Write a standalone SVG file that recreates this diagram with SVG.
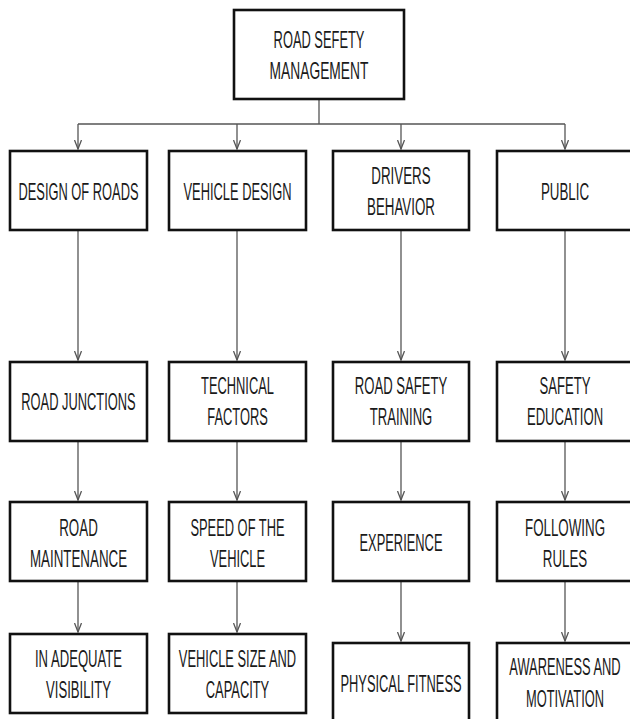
<svg xmlns="http://www.w3.org/2000/svg" width="630" height="719" viewBox="0 0 630 719">
<style>
.box{fill:#fff;stroke:#111;stroke-width:2.6}
.t{font-family:"Liberation Sans",Arial,sans-serif;font-size:23px;fill:#1a1a1a;text-anchor:middle}
.c{fill:none;stroke:#555;stroke-width:1.3}
</style>
<defs>
<marker id="ah" viewBox="0 0 10 8" refX="9.5" refY="4" markerWidth="10" markerHeight="8" markerUnits="userSpaceOnUse" orient="auto">
<path d="M0.5,0.5 L9.5,4 L0.5,7.5" fill="none" stroke="#555" stroke-width="1.3"/>
</marker>
</defs>
<rect width="630" height="719" fill="#fff"/>
<g id="connectors">
<path class="c" d="M319,99 V124 M78,124 H565"/>
<path class="c" d="M78,124 V149" marker-end="url(#ah)"/>
<path class="c" d="M237,124 V149" marker-end="url(#ah)"/>
<path class="c" d="M401,124 V149" marker-end="url(#ah)"/>
<path class="c" d="M565,124 V149" marker-end="url(#ah)"/>
<path class="c" d="M78,231 V360" marker-end="url(#ah)"/>
<path class="c" d="M237,231 V360" marker-end="url(#ah)"/>
<path class="c" d="M401,231 V360" marker-end="url(#ah)"/>
<path class="c" d="M565,231 V360" marker-end="url(#ah)"/>
<path class="c" d="M78,442 V500" marker-end="url(#ah)"/>
<path class="c" d="M237,442 V500" marker-end="url(#ah)"/>
<path class="c" d="M401,442 V500" marker-end="url(#ah)"/>
<path class="c" d="M565,442 V500" marker-end="url(#ah)"/>
<path class="c" d="M78,582 V632" marker-end="url(#ah)"/>
<path class="c" d="M237,582 V632" marker-end="url(#ah)"/>
<path class="c" d="M401,582 V641" marker-end="url(#ah)"/>
<path class="c" d="M565,582 V641" marker-end="url(#ah)"/>
</g>
<g id="root">
<rect class="box" x="234" y="10" width="170" height="89"/>
<text class="t" transform="translate(319,48) scale(0.56,1)">ROAD SEFETY</text>
<text class="t" transform="translate(319,79) scale(0.6,1)">MANAGEMENT</text>
</g>
<g id="design-of-roads">
<rect class="box" x="10" y="151" width="137" height="79"/>
<text class="t" transform="translate(78.5,200) scale(0.56,1)">DESIGN OF ROADS</text>
</g>
<g id="vehicle-design">
<rect class="box" x="169" y="151" width="137" height="79"/>
<text class="t" transform="translate(237.5,200) scale(0.56,1)">VEHICLE DESIGN</text>
</g>
<g id="drivers-behavior">
<rect class="box" x="333" y="151" width="136" height="79"/>
<text class="t" transform="translate(401,184) scale(0.58,1)">DRIVERS</text>
<text class="t" transform="translate(401,215) scale(0.58,1)">BEHAVIOR</text>
</g>
<g id="public">
<rect class="box" x="497" y="151" width="137" height="79"/>
<text class="t" transform="translate(565,200) scale(0.58,1)">PUBLIC</text>
</g>
<g id="road-junctions">
<rect class="box" x="10" y="362" width="137" height="79"/>
<text class="t" transform="translate(78.5,410) scale(0.56,1)">ROAD JUNCTIONS</text>
</g>
<g id="technical-factors">
<rect class="box" x="169" y="362" width="137" height="79"/>
<text class="t" transform="translate(237.5,394) scale(0.56,1)">TECHNICAL</text>
<text class="t" transform="translate(237.5,425) scale(0.56,1)">FACTORS</text>
</g>
<g id="road-safety-training">
<rect class="box" x="333" y="362" width="136" height="79"/>
<text class="t" transform="translate(401,394) scale(0.57,1)">ROAD SAFETY</text>
<text class="t" transform="translate(401,425) scale(0.57,1)">TRAINING</text>
</g>
<g id="safety-education">
<rect class="box" x="497" y="362" width="137" height="79"/>
<text class="t" transform="translate(565,394) scale(0.57,1)">SAFETY</text>
<text class="t" transform="translate(565,425) scale(0.57,1)">EDUCATION</text>
</g>
<g id="road-maintenance">
<rect class="box" x="10" y="502" width="137" height="79"/>
<text class="t" transform="translate(78.5,536) scale(0.58,1)">ROAD</text>
<text class="t" transform="translate(78.5,567) scale(0.58,1)">MAINTENANCE</text>
</g>
<g id="speed-of-the-vehicle">
<rect class="box" x="169" y="502" width="137" height="79"/>
<text class="t" transform="translate(237.5,536) scale(0.56,1)">SPEED OF THE</text>
<text class="t" transform="translate(237.5,567) scale(0.56,1)">VEHICLE</text>
</g>
<g id="experience">
<rect class="box" x="333" y="502" width="136" height="79"/>
<text class="t" transform="translate(401,551) scale(0.56,1)">EXPERIENCE</text>
</g>
<g id="following-rules">
<rect class="box" x="497" y="502" width="137" height="79"/>
<text class="t" transform="translate(565,536) scale(0.58,1)">FOLLOWING</text>
<text class="t" transform="translate(565,567) scale(0.58,1)">RULES</text>
</g>
<g id="in-adequate-visibility">
<rect class="box" x="10" y="634" width="137" height="79"/>
<text class="t" transform="translate(78.5,667) scale(0.57,1)">IN ADEQUATE</text>
<text class="t" transform="translate(78.5,698) scale(0.57,1)">VISIBILITY</text>
</g>
<g id="vehicle-size-and-capacity">
<rect class="box" x="169" y="634" width="137" height="79"/>
<text class="t" transform="translate(237.5,667) scale(0.56,1)">VEHICLE SIZE AND</text>
<text class="t" transform="translate(237.5,698) scale(0.56,1)">CAPACITY</text>
</g>
<g id="physical-fitness">
<rect class="box" x="333" y="643" width="136" height="82"/>
<text class="t" transform="translate(401,692) scale(0.56,1)">PHYSICAL FITNESS</text>
</g>
<g id="awareness-and-motivation">
<rect class="box" x="497" y="643" width="137" height="82"/>
<text class="t" transform="translate(565,675) scale(0.56,1)">AWARENESS AND</text>
<text class="t" transform="translate(565,707) scale(0.56,1)">MOTIVATION</text>
</g>
</svg>
